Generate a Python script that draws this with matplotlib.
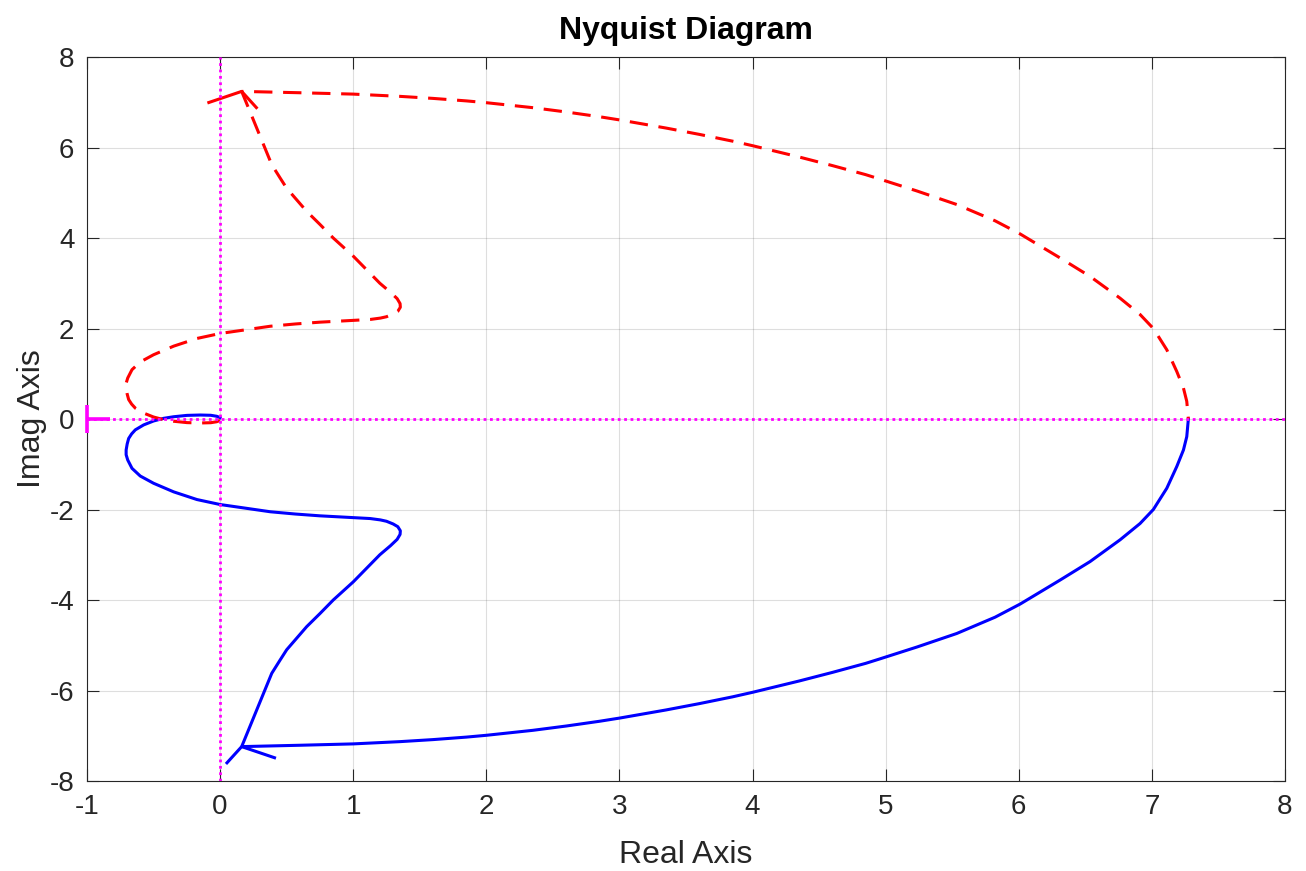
import matplotlib.pyplot as plt
import numpy as np
from matplotlib.path import Path

# positive-frequency branch (w = 0 -> inf)
re_pos = [7.274, 7.262, 7.237, 7.187, 7.112, 7.011, 6.911, 6.761, 6.536, 6.310,
          6.010, 5.822, 5.534, 5.234, 4.958, 4.85, 4.60, 4.35, 4.00, 3.85,
          3.60, 3.35, 3.00, 2.85, 2.60, 2.35, 2.00, 1.85, 1.60, 1.352, 1.00,
          0.60, 0.162,
          0.388, 0.45, 0.50, 0.65, 0.75, 0.85, 1.00, 1.10, 1.20, 1.28, 1.33,
          1.352, 1.354, 1.335, 1.30, 1.25, 1.204, 1.128, 0.94, 0.75, 0.565,
          0.377, 0.189, 0.00, -0.174, -0.349, -0.50, -0.60, -0.662, -0.694,
          -0.706, -0.706, -0.698, -0.687, -0.665, -0.637, -0.574, -0.50,
          -0.424, -0.349, -0.249, -0.149, -0.07, -0.025, 0.00]
im_pos = [0.00, -0.39, -0.685, -1.05, -1.53, -2.00, -2.31, -2.67, -3.15, -3.56,
          -4.09, -4.38, -4.74, -5.04, -5.30, -5.40, -5.60, -5.79, -6.04, -6.14,
          -6.29, -6.43, -6.61, -6.68, -6.785, -6.88, -6.99, -7.03, -7.085,
          -7.13, -7.18, -7.21, -7.24,
          -5.62, -5.33, -5.10, -4.59, -4.30, -4.00, -3.60, -3.30, -3.00, -2.80,
          -2.66, -2.55, -2.47, -2.38, -2.32, -2.26, -2.23, -2.20, -2.17, -2.14,
          -2.10, -2.05, -1.97, -1.89, -1.78, -1.61, -1.42, -1.26, -1.09, -0.906,
          -0.79, -0.685, -0.55, -0.43, -0.33, -0.24, -0.13, -0.044, 0.015,
          0.05, 0.08, 0.088, 0.082, 0.06, 0.03]

# negative frequencies are the mirror image
re_neg = re_pos[::-1]
im_neg = [-v for v in im_pos[::-1]]

x_ticks = np.arange(-1, 9, 1)
y_ticks = np.arange(-8, 9, 2)

plt.rcParams['font.family'] = ['Liberation Sans', 'DejaVu Sans']
plt.rcParams['axes.unicode_minus'] = False

txt = '#262626'
fig = plt.figure(figsize=(13.06, 8.71), dpi=100)
ax = fig.add_axes([87 / 1306, 1 - 781 / 871, 1198 / 1306, 724 / 871])
ax.set_xlim(-1, 8)
ax.set_ylim(-8, 8)

ax.plot(re_pos, im_pos, color='#0000ff', lw=2.2, zorder=2)
ax.plot(re_neg, im_neg, color='#ff0000', lw=2.2, ls=(0, (6, 3.5)), zorder=2)


def draw_arrow(ax, x0, y0, angles, lengths, color):
    # arrow wings drawn in pixel space so they look the same as on screen
    tr = ax.transData
    p0 = tr.transform((x0, y0))
    for ang, ln in zip(angles, lengths):
        a = np.deg2rad(ang)
        p1 = p0 + ln * np.array([np.cos(a), np.sin(a)])
        x1, y1 = tr.inverted().transform(p1)
        ax.plot([x0, x1], [y0, y1], color=color, lw=2.2, zorder=2,
                solid_capstyle='butt')


k = int(np.argmin(im_pos))
draw_arrow(ax, re_pos[k], im_pos[k], [-132.2, -18.7], [23.4, 36.2], '#0000ff')
draw_arrow(ax, re_pos[k], -im_pos[k], [-47.8, -161.3], [23.4, 36.2], '#ff0000')

# real and imaginary axes
ax.axhline(0, color='#ff00ff', lw=2.0, ls=(0, (1, 1.3)), zorder=3)
ax.axvline(0, color='#ff00ff', lw=2.0, ls=(0, (1, 1.3)), zorder=3)

# critical point -1 (only the part inside the box is shown)
plus = Path([(0, 0), (1, 0), (0, -0.62), (0, 0.62)],
            [Path.MOVETO, Path.LINETO, Path.MOVETO, Path.LINETO])
ax.plot([-1], [0], marker=plus, ms=33, mew=2.6, color='#ff00ff', zorder=4,
        clip_on=False)

ax.set_xticks(x_ticks)
ax.set_yticks(y_ticks)
ax.grid(True, color='#262626', alpha=0.15, lw=0.8)
ax.tick_params(direction='in', length=8.5, width=0.8, top=True, right=True,
               labelsize=20, colors=txt, pad=9)
for s in ax.spines.values():
    s.set_color(txt)
    s.set_linewidth(0.8)

ax.set_xlabel('Real Axis', fontsize=23, color=txt, labelpad=15)
ax.set_ylabel('Imag Axis', fontsize=23, color=txt, labelpad=2)
ax.set_title('Nyquist Diagram', fontsize=23, fontweight='bold', pad=13)

fig.savefig('out.png', dpi=100)
